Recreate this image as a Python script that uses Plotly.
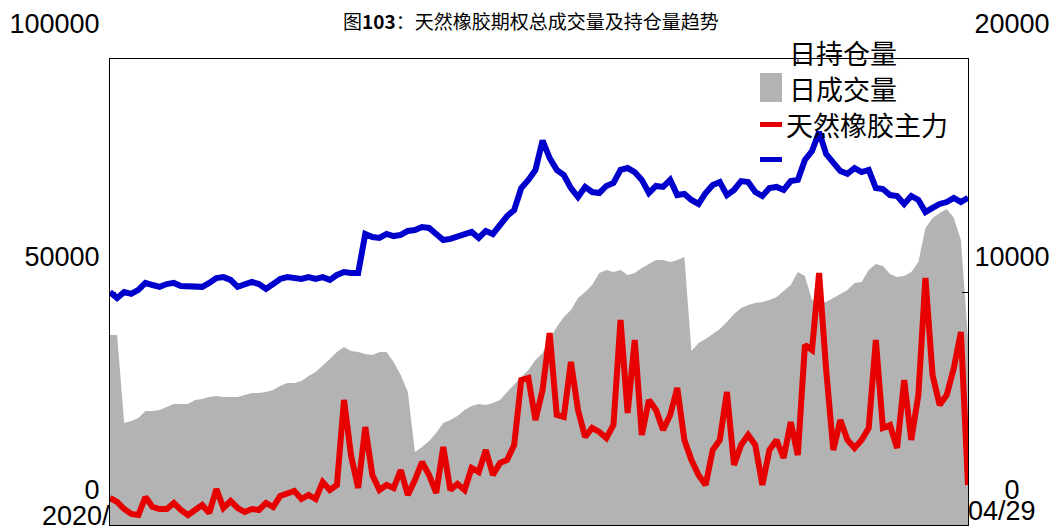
import plotly.graph_objects as go
import pandas as pd

# weekly sampling dates (x categories)
dates = pd.date_range("2020-01-03", periods=122, freq="7D")

# grey area (left axis)
open_interest = [
    40770, 40770, 21890, 22320, 22960, 24460, 24460, 24680, 25320, 25970,
    25970, 25970, 26830, 27040, 27470, 27680, 27470, 27470, 27470, 27900,
    28330, 28330, 28540, 28970, 29830, 30470, 30470, 30900, 31980, 32830,
    34120, 35620, 37130, 38200, 37340, 37130, 36700, 36480, 37130, 37130,
    34980, 32190, 28540, 15670, 16740, 18030, 19740, 21890, 22530, 23390,
    24680, 25540, 25970, 25750, 26180, 26830, 28540, 30260, 31760, 33260,
    35410, 36910, 39920, 42490, 44640, 46140, 48710, 50000, 51500, 54080,
    54720, 54290, 54720, 53650, 54080, 55150, 56010, 56870, 56870, 56440,
    56870, 57510, 37340, 39060, 39920, 40990, 42060, 43560, 45280, 46570,
    47210, 47640, 47860, 48290, 48930, 50220, 51500, 54290, 53440, 48290,
    47640, 47860, 48710, 49570, 50430, 51930, 52150, 54720, 56010, 55580,
    53870, 53220, 53440, 54290, 56440, 63740, 65880, 66960, 67810, 65880,
    61160, 39920]

# red line (left axis)
volume = [
    5800, 4940, 3430, 2360, 2150, 6010, 3860, 3430, 3430, 4720,
    3220, 2150, 3220, 4290, 2580, 7730, 3650, 5150, 3650, 2790,
    3430, 3220, 4720, 3860, 6220, 6650, 7300, 5580, 6440, 5580,
    9230, 7510, 8580, 26830, 14810, 7940, 21030, 10730, 7510, 8580,
    7940, 11800, 6440, 9660, 13520, 10730, 6870, 16740, 7510, 8800,
    7510, 12230, 11370, 16100, 10730, 13310, 13950, 17170, 31120, 31550,
    22530, 28970, 41200, 23610, 23180, 34980, 24680, 18890, 20820, 19960,
    18670, 21460, 43990, 24040, 39700, 19310, 26830, 24680, 20390, 23610,
    29400, 18240, 13950, 10730, 8580, 16100, 18240, 28540, 12880, 17170,
    19310, 17170, 8580, 16100, 18240, 14380, 22100, 15020, 38630, 37560,
    54080, 33260, 16100, 22530, 18240, 16520, 18240, 20820, 39700, 20820,
    21460, 16520, 31120, 18240, 27900, 53010, 32190, 25750, 27900, 33690,
    41420, 8580]

# blue line (right axis)
price = [
    10000, 9740, 10000, 9920, 10090, 10390, 10300, 10220, 10340, 10390,
    10260, 10260, 10260, 10220, 10390, 10600, 10640, 10520, 10220, 10300,
    10430, 10340, 10130, 10340, 10560, 10640, 10600, 10560, 10640, 10560,
    10640, 10520, 10730, 10860, 10820, 10820, 12490, 12360, 12320, 12490,
    12400, 12450, 12620, 12660, 12790, 12750, 12490, 12230, 12280, 12360,
    12450, 12580, 12320, 12620, 12490, 12880, 13260, 13520, 14460, 14810,
    15240, 16500, 15750, 15240, 15020, 14460, 14080, 14510, 14290, 14250,
    14550, 14680, 15240, 15320, 15150, 14810, 14250, 14550, 14510, 14810,
    14160, 14210, 13950, 13780, 14250, 14590, 14720, 14160, 14380, 14760,
    14720, 14290, 14120, 14460, 14510, 14380, 14760, 14810, 15670, 16050,
    16870, 15920, 15580, 15190, 15070, 15320, 15150, 15240, 14460, 14420,
    14160, 14120, 13780, 14120, 13950, 13430, 13610, 13780, 13860, 14040,
    13860, 14040]

left_ticks = [0, 50000, 100000]
left_tick_text = ["0", "50000", "100000"]
right_ticks = [0, 10000, 20000]
right_tick_text = ["\u2007\u20070", "10000", "20000"]  # figure spaces centre the lone 0
x_range = ["2020-01-03", "2022-04-29"]
first_label = "2020/"
last_label = "04/29"

title_text = "图<b>103</b>：天然橡胶期权总成交量及持仓量趋势"
legend_labels = ["日持仓量", "日成交量", "天然橡胶主力"]

GREY = "#B3B3B3"
RED = "#E60000"
BLUE = "#0000CC"
TICK_FONT = dict(family="Liberation Sans, Arial, sans-serif", size=27, color="black")
CJK = "Noto Sans CJK SC"

fig = go.Figure()
fig.add_trace(go.Scatter(x=dates, y=open_interest, mode="lines", fill="tozeroy",
                         line=dict(width=0, color=GREY), fillcolor=GREY,
                         showlegend=False, xaxis="x", yaxis="y"))
fig.add_trace(go.Scatter(x=dates, y=volume, mode="lines",
                         line=dict(width=6, color=RED), showlegend=False,
                         xaxis="x", yaxis="y"))
fig.add_trace(go.Scatter(x=dates, y=price, mode="lines",
                         line=dict(width=6, color=BLUE), showlegend=False,
                         xaxis="x2", yaxis="y2"))

# plot area in pixels: x 110..968, y 59..525
def px(xp):
    return (xp - 110) / 858

def py(yp):
    return (525 - yp) / 466

shapes = [
    # legend symbols
    dict(type="rect", xref="paper", yref="paper", x0=px(760), x1=px(782), y0=py(102), y1=py(73),
         fillcolor=GREY, line=dict(width=0)),
    dict(type="rect", xref="paper", yref="paper", x0=px(760), x1=px(782), y0=py(127), y1=py(122),
         fillcolor=RED, line=dict(width=0)),
    dict(type="rect", xref="paper", yref="paper", x0=px(760), x1=px(782), y0=py(162), y1=py(157),
         fillcolor=BLUE, line=dict(width=0)),
    # small top tick
    dict(type="line", xref="paper", yref="paper", x0=px(798), x1=px(798), y0=1, y1=py(64),
         line=dict(width=1, color="black")),
]

annotations = [
    dict(text=title_text, xref="paper", yref="paper", x=px(531), y=py(21), xanchor="center",
         yanchor="middle", showarrow=False, font=dict(family=CJK, size=19, color="black")),
    dict(text=legend_labels[0], xref="paper", yref="paper", x=px(787), y=py(52), xanchor="left",
         yanchor="middle", showarrow=False, font=dict(family=CJK, size=27, color="black")),
    dict(text=legend_labels[1], xref="paper", yref="paper", x=px(787), y=py(89), xanchor="left",
         yanchor="middle", showarrow=False, font=dict(family=CJK, size=27, color="black")),
    dict(text=legend_labels[2], xref="paper", yref="paper", x=px(784), y=py(125), xanchor="left",
         yanchor="middle", showarrow=False, font=dict(family=CJK, size=27, color="black")),
]

fig.update_layout(
    width=1060, height=528,
    margin=dict(l=110, r=92, t=59, b=3, pad=0),
    paper_bgcolor="white", plot_bgcolor="white",
    showlegend=False,
    shapes=shapes, annotations=annotations,
    xaxis=dict(type="date", range=x_range, showgrid=False, zeroline=False,
               showline=True, linecolor="black", linewidth=1, mirror=True, ticks="",
               tickvals=[x_range[0]], ticktext=[first_label], tickfont=TICK_FONT,
               ticklabelposition="outside left", ticklabeloverflow="allow",
               layer="below traces", ticklabelstandoff=-33, automargin=False),
    xaxis2=dict(type="date", range=x_range, overlaying="x", anchor="y2", side="bottom",
                showgrid=False, zeroline=False, showline=False, ticks="",
                tickvals=[x_range[1]], ticktext=[last_label], tickfont=TICK_FONT,
                ticklabelposition="outside right", ticklabeloverflow="allow",
                ticklabelstandoff=-33, automargin=False),
    yaxis=dict(range=[0, 100000], tickvals=left_ticks, ticktext=left_tick_text,
               showgrid=False, zeroline=False, showline=True, linecolor="black", linewidth=1,
               ticks="inside", ticklen=6, tickcolor="black", tickfont=TICK_FONT,
               layer="below traces", ticklabelshift=-35, ticklabelstandoff=4, automargin=False),
    yaxis2=dict(range=[0, 20000], tickvals=right_ticks, ticktext=right_tick_text,
                overlaying="y", anchor="x2", side="right", showgrid=False, zeroline=False,
                showline=True, linecolor="black", linewidth=1, ticks="inside", ticklen=6,
                tickcolor="black", tickfont=TICK_FONT, layer="above traces",
                ticklabelshift=-35, ticklabelstandoff=0, automargin=False),
)

fig.write_html("out.html", config={"displayModeBar": False},
               post_script="document.body.style.margin='0px';document.body.style.overflow='hidden';")
